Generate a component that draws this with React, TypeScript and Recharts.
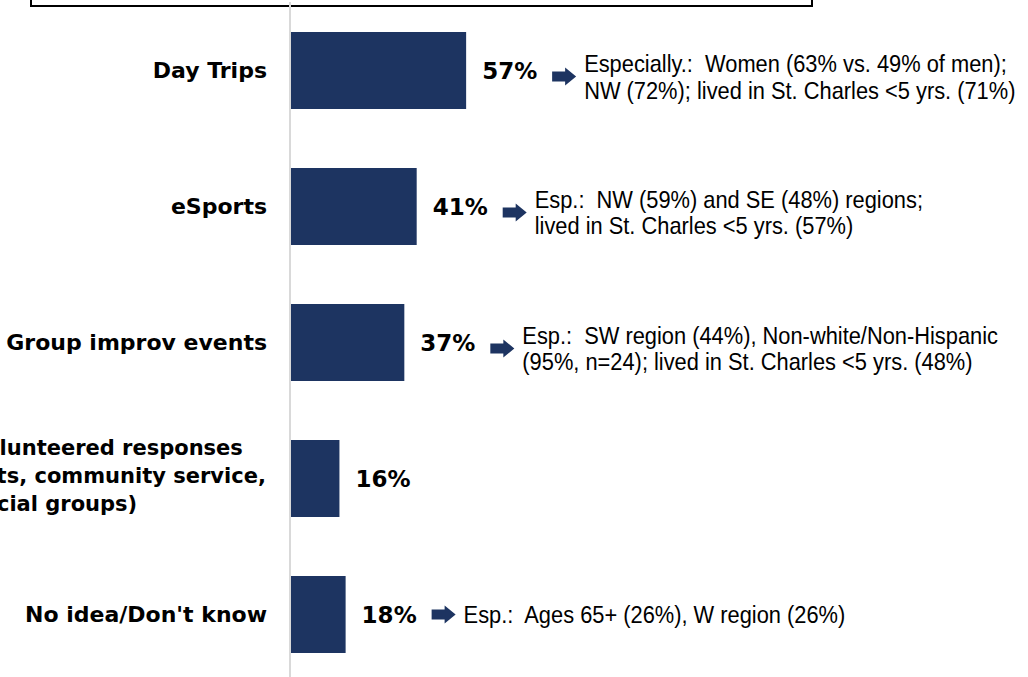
import { BarChart, Bar, XAxis, YAxis, LabelList } from 'recharts';

const CATEGORIES = [
  'Day Trips',
  'eSports',
  'Group improv events',
  'Volunteered responses\nArts, community service,\nsocial groups)',
  "No idea/Don't know",
];
const VALUES = [57, 41, 37, 16, 18];
const NOTES = [
  ['Especially.:  Women (63% vs. 49% of men);', 'NW (72%); lived in St. Charles <5 yrs. (71%)'],
  ['Esp.:  NW (59%) and SE (48%) regions;', 'lived in St. Charles <5 yrs. (57%)'],
  ['Esp.:  SW region (44%), Non-white/Non-Hispanic', '(95%, n=24); lived in St. Charles <5 yrs. (48%)'],
  [],
  ['Esp.:  Ages 65+ (26%), W region (26%)'],
];

const NAVY = '#1d3461';
const BOLD_FONT = '"DejaVu Sans", Verdana, sans-serif';
const NOTE_FONT = '"Liberation Sans", Arial, sans-serif';
// the notes use a narrow face; squeeze a regular one horizontally
const NOTE_SQUEEZE = 0.91;

const data = CATEGORIES.map((name, i) => ({ name, value: VALUES[i] }));

// eslint-disable-next-line @typescript-eslint/no-explicit-any
function CategoryTick({ x, y, payload }: any) {
  const lines = String(payload.value).split('\n');
  if (lines.length === 1) {
    return (
      <text x={x} y={y + 8} textAnchor="end" fontFamily={BOLD_FONT} fontWeight="bold" fontSize={22} fill="#000">
        {lines[0]}
      </text>
    );
  }
  // multi-line label is a left aligned block, partly cut off by the page edge
  return (
    <text x={x - 297} y={y} textAnchor="start" fontFamily={BOLD_FONT} fontWeight="bold" fontSize={21} fill="#000">
      {lines.map((line, i) => (
        <tspan key={i} x={x - 297} y={y + 5 + (i - (lines.length - 1) / 2) * 28}>
          {line}
        </tspan>
      ))}
    </text>
  );
}

// eslint-disable-next-line @typescript-eslint/no-explicit-any
function BarLabel({ x, y, width, height, value, index }: any) {
  const end = Number(x) + Number(width);
  const cy = Number(y) + Number(height) / 2;
  const notes = NOTES[index] || [];
  const blockY = cy + (notes.length - 1) * 6;
  const ax = end + 86;
  return (
    <g>
      <text x={end + 16} y={cy + 8} fontFamily={BOLD_FONT} fontWeight="bold" fontSize={23} fill="#000">
        {value}%
      </text>
      {notes.length > 0 && (
        <>
          <path
            d={`M${ax},${blockY - 5} L${ax + 13},${blockY - 5} L${ax + 13},${blockY - 9} L${ax + 24},${blockY} L${ax + 13},${blockY + 9} L${ax + 13},${blockY + 5} L${ax},${blockY + 5} Z`}
            fill={NAVY}
          />
          <g transform={`translate(${end + 118},0) scale(${NOTE_SQUEEZE},1)`}>
            <text fontFamily={NOTE_FONT} fontSize={24} fill="#000" style={{ whiteSpace: 'pre' }}>
              {notes.map((line, i) => (
                <tspan key={i} x={0} y={blockY + 9 + (i - (notes.length - 1) / 2) * 26}>
                  {line}
                </tspan>
              ))}
            </text>
          </g>
        </>
      )}
    </g>
  );
}

export default function App() {
  return (
    <div style={{ position: 'fixed', left: 0, top: 0, width: 1028, height: 677, overflow: 'hidden', background: '#fff' }}>
      <div
        style={{
          position: 'absolute',
          left: 30,
          top: -50,
          width: 783,
          height: 57,
          boxSizing: 'border-box',
          border: '2px solid #000',
        }}
      />
      <div style={{ position: 'absolute', left: 0, top: 0 }}>
        <BarChart
          width={1028}
          height={700}
          data={data}
          layout="vertical"
          margin={{ top: 2, right: 429, bottom: 18, left: 0 }}
        >
          <XAxis type="number" domain={[0, 100]} hide />
          <YAxis
            type="category"
            dataKey="name"
            width={290}
            axisLine={{ stroke: '#d9d9d9', strokeWidth: 2 }}
            tickLine={false}
            tickSize={0}
            tickMargin={23}
            tick={<CategoryTick />}
            interval={0}
          />
          <Bar dataKey="value" fill={NAVY} barSize={77} isAnimationActive={false}>
            <LabelList dataKey="value" content={<BarLabel />} />
          </Bar>
        </BarChart>
      </div>
    </div>
  );
}
